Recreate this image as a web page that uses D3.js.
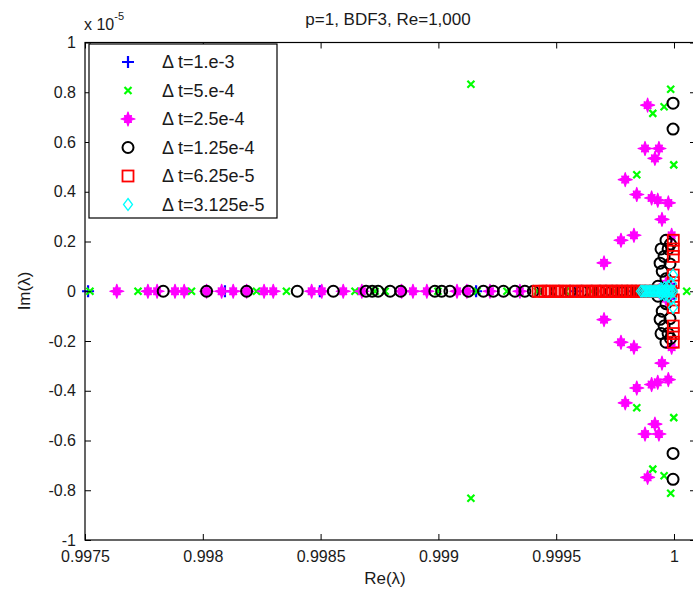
<!DOCTYPE html>
<html>
<head>
<meta charset="utf-8">
<script src="https://cdn.jsdelivr.net/npm/d3@7"></script>
<style>
  body { margin: 0; background: #fff; }
  text { font-family: "Liberation Sans", Arial, sans-serif; fill: #1a1a1a; }
</style>
</head>
<body>
<div id="chart"></div>
<script>
// eigenvalue data: real parts on the axis, and upper half of conjugate pairs [re, im(x1e-5)]
const xTicks = [0.9975, 0.998, 0.9985, 0.999, 0.9995, 1];
const yTicks = [1, 0.8, 0.6, 0.4, 0.2, 0, -0.2, -0.4, -0.6, -0.8, -1];
const legendLabels = ["\u0394 t=1.e-3", "\u0394 t=5.e-4", "\u0394 t=2.5e-4", "\u0394 t=1.25e-4", "\u0394 t=6.25e-5", "\u0394 t=3.125e-5"];

const blueReal = [0.997513, 0.998094, 0.998497, 0.999160, 0.999585, 0.999835, 0.999962];
const blueCplx = [[0.999985, 0.03]];

const greenReal = [0.997521, 0.997725, 0.997952, 0.998228, 0.998355, 0.998646, 0.998731, 0.998774,
  0.998998, 0.999164, 0.999291, 0.999420, 0.999540, 0.999650, 0.999745, 0.999830, 0.999905, 1.000054];
const greenCplx = [[0.999138, 0.832], [0.999986, 0.812], [0.999958, 0.742], [0.999910, 0.715],
  [0.999999, 0.508], [0.999842, 0.468]];

const magentaReal = [0.997635, 0.997767, 0.997806, 0.997882, 0.997921, 0.998016, 0.998080, 0.998129,
  0.998186, 0.998260, 0.998299, 0.998462, 0.998505, 0.998596, 0.998675, 0.998844, 0.998892, 0.998951,
  0.999079, 0.999121, 0.999219, 0.999346];
const magentaCplx = [[0.999888, 0.748], [0.999877, 0.574], [0.999936, 0.574], [0.999919, 0.534],
  [0.999793, 0.449], [0.999842, 0.389], [0.999905, 0.375], [0.999931, 0.366], [0.999976, 0.355],
  [0.999949, 0.289], [0.999830, 0.225], [0.999775, 0.205], [0.999703, 0.114], [0.999990, 0.225],
  [0.999966, 0.03]];

const blackReal = [0.997832, 0.998016, 0.998186, 0.998401, 0.998554, 0.998693, 0.998719, 0.998744,
  0.998795, 0.998840, 0.998985, 0.999014, 0.999049, 0.999127, 0.999191, 0.999233, 0.999276, 0.999325,
  0.999367, 0.999403, 0.999460, 0.999511, 0.999559, 0.999608, 0.999651, 0.999686, 0.999711, 0.999737,
  0.999758, 0.999779, 0.999801, 0.999822, 0.999839, 0.999856, 0.999877, 0.999898, 0.999915, 0.999932,
  0.999949, 0.999966, 0.999983];
const blackCplx = [[0.999996, 0.756], [0.999996, 0.652], [0.999966, 0.205], [0.999975, 0.17],
  [0.999941, 0.113], [0.999958, 0.14], [0.999950, 0.08], [0.999966, 0.05], [0.999983, 0.11],
  [0.999932, 0.02], [0.999985, 0.19], [0.999945, 0.17]];

const redReal = [0.999423, 0.999435, 0.999452, 0.999465, 0.999478, 0.999495, 0.999508, 0.999520,
  0.999537, 0.999550, 0.999567, 0.999580, 0.999593, 0.999610, 0.999622, 0.999635, 0.999652, 0.999665,
  0.999677, 0.999690, 0.999703, 0.999716, 0.999728, 0.999741, 0.999754, 0.999767, 0.999779, 0.999792,
  0.999805, 0.999817, 0.999830, 0.999843, 0.999856, 0.999873, 0.999890, 0.999907, 0.999924, 0.999941,
  0.999958, 0.999975, 0.999987];
const redCplx = [[0.999997, 0.205], [0.999997, 0.17], [0.999997, 0.14], [0.999997, 0.065], [0.999997, 0.035]];

const cyanReal = [0.999860, 0.999868, 0.999877, 0.999885, 0.999894, 0.999902, 0.999911, 0.999919,
  0.999928, 0.999936, 0.999945, 0.999949, 0.999958, 0.999962, 0.999970, 0.999975, 0.999983, 0.999987,
  0.999996];
const cyanCplx = [[0.999996, 0.065], [0.999990, 0.03], [0.999975, 0.02], [0.999960, 0.015], [0.999945, 0.01]];


function points(real, cplx) {
  let pts = real.map(r => [r, 0]);
  cplx.forEach(c => { pts.push([c[0], c[1]]); pts.push([c[0], -c[1]]); });
  return pts;
}

const W = 693, H = 596;
const margin = {left: 85, right: 696, top: 42.5, bottom: 540};

const x = d3.scaleLinear().domain([0.9975, 1.0000934]).range([margin.left, margin.right]);
const y = d3.scaleLinear().domain([-1, 1]).range([margin.bottom, margin.top]);

const svg = d3.select("#chart").append("svg")
  .attr("width", W).attr("height", H);

// 4-point star with diagonal bumps (matlab-like hexagram look)
const starPath = (() => {
  const radii = [7, 3.3, 4.9, 3.3];
  let p = [];
  for (let k = 0; k < 16; k++) {
    const ang = -Math.PI / 2 + k * Math.PI / 8;
    const r = radii[k % 4];
    p.push([r * Math.cos(ang), r * Math.sin(ang)]);
  }
  return "M" + p.map(d => d[0].toFixed(2) + "," + d[1].toFixed(2)).join("L") + "Z";
})();

const series = [
  {pts: points(blueReal, blueCplx), kind: "plus", color: "#0000ff"},
  {pts: points(greenReal, greenCplx), kind: "x", color: "#00ff00"},
  {pts: points(magentaReal, magentaCplx), kind: "star", color: "#ff00ff"},
  {pts: points(blackReal, blackCplx), kind: "circle", color: "#000000"},
  {pts: points(redReal, redCplx), kind: "square", color: "#ff0000"},
  {pts: points(cyanReal, cyanCplx), kind: "diamond", color: "#00ffff"}
];

function drawMarker(g, kind, color) {
  if (kind === "plus") {
    g.append("path").attr("d", "M-6,0H6M0,-6V6")
      .attr("stroke", color).attr("stroke-width", 2.2).attr("fill", "none");
  } else if (kind === "x") {
    g.append("path").attr("d", "M-3.5,-3.5L3.5,3.5M-3.5,3.5L3.5,-3.5")
      .attr("stroke", color).attr("stroke-width", 2.2).attr("fill", "none");
  } else if (kind === "star") {
    g.append("path").attr("d", starPath).attr("fill", color)
      .attr("stroke", color).attr("stroke-width", 1.2).attr("stroke-linejoin", "round");
  } else if (kind === "circle") {
    g.append("circle").attr("r", 5.5).attr("fill", "none")
      .attr("stroke", color).attr("stroke-width", 2);
  } else if (kind === "square") {
    g.append("rect").attr("x", -5.5).attr("y", -5.5).attr("width", 11).attr("height", 11)
      .attr("fill", "none").attr("stroke", color).attr("stroke-width", 1.8);
  } else if (kind === "diamond") {
    g.append("path").attr("d", "M0,-6L4.5,0L0,6L-4.5,0Z").attr("fill", "none")
      .attr("stroke", color).attr("stroke-width", 1.3);
  }
}

// data
const plot = svg.append("g");
series.forEach(s => {
  plot.append("g").selectAll("g")
    .data(s.pts)
    .enter()
    .append("g")
    .attr("transform", d => "translate(" + x(d[0]) + "," + y(d[1]) + ")")
    .each(function() { drawMarker(d3.select(this), s.kind, s.color); });
});

// axes
const fmt = d => String(d);
svg.append("g")
  .attr("transform", "translate(0," + margin.bottom + ")")
  .call(d3.axisBottom(x).tickValues(xTicks).tickFormat(fmt).tickSizeInner(-6).tickSizeOuter(0).tickPadding(11))
  .call(g => g.select(".domain").remove())
  .selectAll("text").style("font-size", "16px").style("font-family", "Liberation Sans, Arial, sans-serif");

svg.append("g")
  .attr("transform", "translate(0," + margin.top + ")")
  .call(d3.axisTop(x).tickValues(xTicks).tickFormat("").tickSizeInner(-6).tickSizeOuter(0))
  .call(g => g.select(".domain").remove());

svg.append("g")
  .attr("transform", "translate(" + margin.left + ",0)")
  .call(d3.axisLeft(y).tickValues(yTicks).tickFormat(fmt).tickSizeInner(-6).tickSizeOuter(0).tickPadding(9))
  .call(g => g.select(".domain").remove())
  .selectAll("text").style("font-size", "16px").style("font-family", "Liberation Sans, Arial, sans-serif");

svg.append("g")
  .attr("transform", "translate(" + margin.right + ",0)")
  .call(d3.axisRight(y).tickValues(yTicks).tickFormat("").tickSizeInner(-6).tickSizeOuter(0))
  .call(g => g.select(".domain").remove());

svg.selectAll(".tick line").attr("stroke", "#000");

svg.append("rect")
  .attr("x", margin.left).attr("y", margin.top)
  .attr("width", margin.right - margin.left).attr("height", margin.bottom - margin.top)
  .attr("fill", "none").attr("stroke", "#000").attr("stroke-width", 1.2);

// multiplier
const mult = svg.append("text").attr("x", 84).attr("y", 30).style("font-size", "16px");
mult.append("tspan").text("x 10");
mult.append("tspan").attr("dy", -10).style("font-size", "11px").text("-5");

// title and labels
svg.append("text").attr("x", 388).attr("y", 25).attr("text-anchor", "middle")
  .style("font-size", "17px").text("p=1, BDF3, Re=1,000");
svg.append("text").attr("x", 385).attr("y", 584).attr("text-anchor", "middle")
  .style("font-size", "17px").text("Re(\u03bb)");
svg.append("text").attr("transform", "translate(30,291) rotate(-90)").attr("text-anchor", "middle")
  .style("font-size", "17px").text("Im(\u03bb)");

// legend
const lg = svg.append("g");
lg.append("rect").attr("x", 89).attr("y", 44).attr("width", 188).attr("height", 174)
  .attr("fill", "#fff").attr("stroke", "#000").attr("stroke-width", 1.2);
series.forEach((s, i) => {
  const ly = 62 + i * 28.5;
  const m = lg.append("g").attr("transform", "translate(128," + ly + ")");
  drawMarker(m, s.kind, s.color);
  lg.append("text").attr("x", 162).attr("y", ly + 6).style("font-size", "18px").text(legendLabels[i]);
});
</script>
</body>
</html>
